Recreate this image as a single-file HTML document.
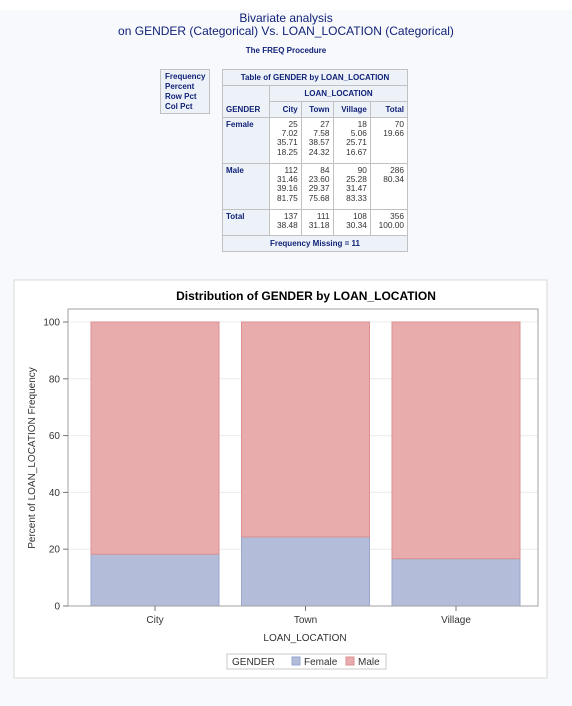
<!DOCTYPE html>
<html><head><meta charset="utf-8">
<style>
body{margin:0;width:572px;height:706px;background:#fff;font-family:"Liberation Sans",Arial,sans-serif;overflow:hidden;position:relative}
#bg{position:absolute;left:0;top:10px;width:572px;height:696px;background:#f8f9fd}
.t{position:absolute;left:0;width:572px;text-align:center;color:#112277}
table{border-collapse:collapse;font-size:8px;color:#112277}
td{border:1px solid #c1c1c1;padding:0 3px}
.h{background:#edf2f9;font-weight:bold}
.n{text-align:right;background:#fff;vertical-align:top;line-height:9.2px;padding-top:2px;color:#333;font-size:8.3px}
</style></head><body>
<div id="bg"></div>
<div class="t" style="top:12px;font-size:12px;line-height:13px">Bivariate analysis<br>on GENDER (Categorical) Vs. LOAN_LOCATION (Categorical)</div>
<div class="t" style="top:46px;font-size:8px;font-weight:bold">The FREQ Procedure</div>
<div style="position:absolute;left:160px;top:69px;width:50px;height:45px;border:1px solid #c1c1c1;background:#edf2f9;font-size:8px;font-weight:bold;color:#112277;line-height:10px;padding-left:4px;box-sizing:border-box;padding-top:2px">Frequency<br>Percent<br>Row Pct<br>Col Pct</div>
<table style="position:absolute;left:222px;top:69px;width:186px">
<tr style="height:16px"><td class="h" colspan="5" style="text-align:center">Table of GENDER by LOAN_LOCATION</td></tr>
<tr style="height:16px"><td class="h" rowspan="2" style="vertical-align:bottom;padding-bottom:3px;width:40px">GENDER</td><td class="h" colspan="4" style="text-align:center">LOAN_LOCATION</td></tr>
<tr style="height:16px"><td class="h" style="text-align:right">City</td><td class="h" style="text-align:right">Town</td><td class="h" style="text-align:right">Village</td><td class="h" style="text-align:right">Total</td></tr>
<tr style="height:46px"><td class="h" style="vertical-align:top;padding-top:2px">Female</td><td class="n">25<br>7.02<br>35.71<br>18.25</td><td class="n">27<br>7.58<br>38.57<br>24.32</td><td class="n">18<br>5.06<br>25.71<br>16.67</td><td class="n">70<br>19.66</td></tr>
<tr style="height:46px"><td class="h" style="vertical-align:top;padding-top:2px">Male</td><td class="n">112<br>31.46<br>39.16<br>81.75</td><td class="n">84<br>23.60<br>29.37<br>75.68</td><td class="n">90<br>25.28<br>31.47<br>83.33</td><td class="n">286<br>80.34</td></tr>
<tr style="height:26px"><td class="h" style="vertical-align:top;padding-top:2px">Total</td><td class="n">137<br>38.48</td><td class="n">111<br>31.18</td><td class="n">108<br>30.34</td><td class="n">356<br>100.00</td></tr>
<tr style="height:16px"><td class="h" colspan="5" style="text-align:center">Frequency Missing = 11</td></tr>
</table>
<svg id="chart" width="572" height="706" style="position:absolute;left:0;top:0" font-family="Liberation Sans, Arial, sans-serif">
<rect x="14" y="280" width="533" height="398" fill="#fff" stroke="#d8d8d8"/>
<text x="306" y="300" text-anchor="middle" font-size="12" font-weight="bold" fill="#000">Distribution of GENDER by LOAN_LOCATION</text>
<g id="grid"></g><g id="bars"></g>
<rect x="68" y="309" width="470" height="297" fill="none" stroke="#a0a0a0"/>
<g id="axes"></g>
<text transform="translate(35,458) rotate(-90)" text-anchor="middle" font-size="10" fill="#333">Percent of LOAN_LOCATION Frequency</text>
<text x="305" y="641" text-anchor="middle" font-size="10" fill="#333">LOAN_LOCATION</text>
<g>
<rect x="227" y="654" width="159" height="15" fill="#fff" stroke="#c8c8c8"/>
<text x="232" y="665" font-size="10" fill="#333">GENDER</text>
<rect x="292" y="657" width="8" height="8" fill="#b3bcd9" stroke="#9aa6d0"/>
<text x="304" y="665" font-size="10" fill="#333">Female</text>
<rect x="346" y="657" width="8" height="8" fill="#e8acac" stroke="#dc9090"/>
<text x="358" y="665" font-size="10" fill="#333">Male</text>
</g>
</svg>
<script>
const categories=["City","Town","Village"];
const femalePct=[18.25,24.32,16.67];
const malePct=[81.75,75.68,83.33];
const yTicks=[0,20,40,60,80,100];
const NS="http://www.w3.org/2000/svg";
const y=v=>606-v*2.84;
const xc=i=>155+i*150.5;
const bw=128;
function mk(tag,attrs,parent){const e=document.createElementNS(NS,tag);for(const k in attrs)e.setAttribute(k,attrs[k]);document.getElementById(parent).appendChild(e);return e;}
yTicks.forEach(t=>{
  if(t>0){const g=mk('line',{x1:68,x2:538,y1:y(t),y2:y(t),stroke:'#ececec'},'grid');
  
  }
  const k=mk('line',{x1:63,x2:68,y1:y(t),y2:y(t),stroke:'#777'},'axes');
  
  
  const l=mk('text',{x:60,y:y(t)+3.5,'text-anchor':'end','font-size':10,fill:'#333'},'axes');l.textContent=t;
  
  
});
categories.forEach((c,i)=>{
  const x0=xc(i)-bw/2;
  const f=femalePct[i],m=malePct[i];
  const bf=mk('rect',{x:x0,y:y(f),width:bw,height:y(0)-y(f),fill:'#b3bcd9',stroke:'#9aa6d0'},'bars');
  
  
  const bm=mk('rect',{x:x0,y:y(f+m),width:bw,height:y(f)-y(f+m),fill:'#e8acac',stroke:'#dc9090'},'bars');
  
  
  const k=mk('line',{x1:xc(i),x2:xc(i),y1:606,y2:611,stroke:'#777'},'axes');
  
  
  const l=mk('text',{x:xc(i),y:623,'text-anchor':'middle','font-size':10,fill:'#333'},'axes');l.textContent=c;
  
  
});
</script>
</body></html>
